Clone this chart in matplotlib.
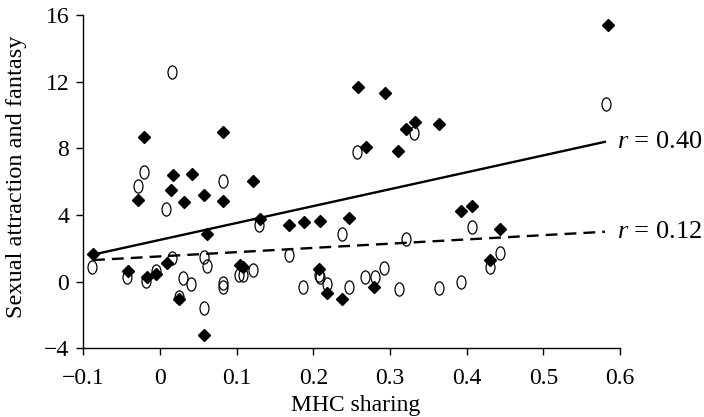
import numpy as np
import matplotlib
matplotlib.use("Agg")
import matplotlib.pyplot as plt
from matplotlib.path import Path
from matplotlib.transforms import Affine2D

plt.rcParams['font.family'] = ['Liberation Serif', 'DejaVu Serif']
plt.rcParams['mathtext.fontset'] = 'custom'
plt.rcParams['mathtext.rm'] = 'Liberation Serif'
plt.rcParams['mathtext.it'] = 'Liberation Serif:italic'

# group 1 (filled diamonds, r = 0.40)
diamond_x = [-0.087, -0.029, -0.020, 0.017, 0.042, 0.015, 0.031, 0.058, 0.082, 0.082,
             0.121, 0.062, 0.131, 0.169, 0.188, 0.209, 0.247, 0.258, 0.294, 0.269,
             0.311, 0.321, 0.332, 0.364, 0.392, 0.407, 0.443, 0.430, 0.584, -0.042,
             -0.017, -0.005, 0.010, 0.025, 0.057, 0.104, 0.109, 0.207, 0.218, 0.238,
             0.279]
diamond_y = [1.65, 4.89, 8.69, 6.39, 6.43, 5.49, 4.75, 5.19, 8.99, 4.85,
             6.03, 2.85, 3.73, 3.39, 3.55, 3.65, 3.83, 11.69, 11.33, 8.05,
             7.85, 9.13, 9.55, 9.45, 4.25, 4.55, 3.13, 1.29, 15.43, 0.65,
             0.29, 0.45, 1.09, -1.07, -3.21, 0.99, 0.85, 0.73, -0.71, -1.07,
             -0.31]

# group 2 (open ellipses, r = 0.12)
ellipse_x = [-0.020, -0.029, 0.0085, 0.082, 0.129, 0.016, -0.088, -0.043, -0.018, -0.005,
             0.016, 0.025, 0.030, 0.041, 0.057, 0.062, 0.057, 0.082, 0.082, 0.103,
             0.109, 0.121, 0.169, 0.187, 0.207, 0.209, 0.218, 0.238, 0.247, 0.268,
             0.280, 0.292, 0.312, 0.321, 0.364, 0.393, 0.407, 0.430, 0.443, 0.257,
             0.331, 0.582]
ellipse_y = [6.59, 5.73, 4.33, 6.03, 3.39, 12.59, 0.85, 0.29, 0.05, 0.65,
             1.39, -0.91, 0.19, -0.15, 1.45, 0.93, -1.61, -0.11, -0.31, 0.39,
             0.39, 0.69, 1.59, -0.31, 0.39, 0.25, -0.15, 2.85, -0.31, 0.25,
             0.29, 0.79, -0.47, 2.53, -0.37, -0.01, 3.25, 0.85, 1.73, 7.79,
             8.89, 10.65]

# regression lines: (intercept, slope), drawn over the x range below
fit_x = [-0.087, 0.580]
fit_solid = (2.50, 10.15)
fit_dashed = (1.51, 2.55)
r_labels = ["0.40", "0.12"]

x_ticks = [-0.1, 0, 0.1, 0.2, 0.3, 0.4, 0.5, 0.6]
x_tick_labels = ["\u22120.1", "0", "0.1", "0.2", "0.3", "0.4", "0.5", "0.6"]
y_ticks = [-4, 0, 4, 8, 12, 16]
y_tick_labels = ["\u22124", "0", "4", "8", "12", "16"]

# tall open ellipse marker
ellipse_marker = Affine2D().scale(0.68, 1.0).transform_path(Path.unit_circle())

fig = plt.figure(figsize=(7.04, 4.17), dpi=100)
ax = fig.add_axes([0.118, 0.165, 0.763, 0.799])

ax.plot(ellipse_x, ellipse_y, linestyle='none', marker=ellipse_marker, markersize=9.5,
        markerfacecolor='none', markeredgecolor='black', markeredgewidth=0.9)
ax.plot(diamond_x, diamond_y, linestyle='none', marker='D', markersize=6.0,
        color='black')

fx = np.array(fit_x)
ys = fit_solid[0] + fit_solid[1] * fx
yd = fit_dashed[0] + fit_dashed[1] * fx
ax.plot(fx, ys, color='black', linewidth=1.7)
ax.plot(fx, yd, color='black', linewidth=1.7, dashes=(5, 3))

ax.text(0.596, ys[-1], r"$r$ = " + r_labels[0], fontsize=19, ha='left', va='center')
ax.text(0.596, yd[-1], r"$r$ = " + r_labels[1], fontsize=19, ha='left', va='center')

ax.set_xlim(-0.1, 0.6)
ax.set_ylim(-4, 16)
ax.set_xticks(x_ticks)
ax.set_xticklabels(x_tick_labels)
ax.set_yticks(y_ticks)
ax.set_yticklabels(y_tick_labels)
ax.tick_params(direction='out', length=5, width=1, labelsize=17)
ax.tick_params(axis='x', pad=9)
ax.tick_params(axis='y', pad=5)

for side in ['top', 'right']:
    ax.spines[side].set_visible(False)
for side in ['left', 'bottom']:
    ax.spines[side].set_linewidth(1)

ax.set_xlabel("MHC sharing", fontsize=17)
ax.set_ylabel("Sexual attraction and fantasy", fontsize=17.5)
ax.xaxis.set_label_coords(0.507, -0.14)
ax.yaxis.set_label_coords(-0.105, 0.515)

fig.savefig("out.png", dpi=100)
